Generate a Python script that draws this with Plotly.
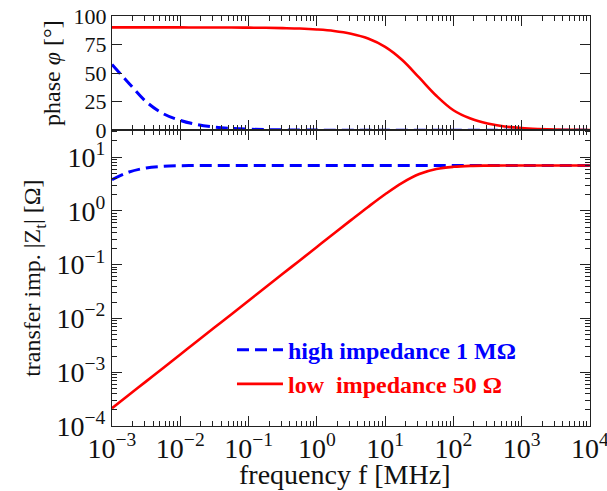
import plotly.graph_objects as go
from plotly.subplots import make_subplots

# frequency samples [MHz], quarter-decade steps
freq_mhz = [1e-3, 1.778e-3, 3.162e-3, 5.623e-3,
            1e-2, 1.778e-2, 3.162e-2, 5.623e-2,
            1e-1, 0.1778, 0.3162, 0.5623,
            1.0, 1.778, 3.162, 5.623,
            10.0, 17.78, 31.62, 56.23,
            100.0, 177.8, 316.2, 562.3,
            1000.0, 1778.0, 3162.0, 5623.0,
            10000.0]

# phase [deg]
phase_high = [57.5, 41.0, 25.0, 14.5, 8.6, 4.9, 2.8, 1.6,
              0.9, 0.5, 0.3, 0.16, 0.09, 0.05, 0.03, 0.02,
              0.01, 0.0, 0.0, 0.0, 0.0, 0.0, 0.0, 0.0,
              0.0, 0.0, 0.0, 0.0, 0.0]
phase_low = [90.0, 90.0, 90.0, 90.0, 90.0, 89.95, 89.9, 89.9,
             89.8, 89.7, 89.4, 89.0, 88.2, 86.9, 84.5, 80.3,
             73.0, 61.5, 46.0, 30.2, 17.5, 10.2, 5.9, 3.3,
             1.9, 1.1, 0.6, 0.35, 0.2]

# transfer impedance |Zt| [Ohm]
zt_high = [3.80, 5.28, 6.29, 6.75, 6.92, 6.97, 6.99, 7.0,
           7.0, 7.0, 7.0, 7.0, 7.0, 7.0, 7.0, 7.0,
           7.0, 7.0, 7.0, 7.0, 7.0, 7.0, 7.0, 7.0,
           7.0, 7.0, 7.0, 7.0, 7.0]
zt_low = [2.14e-4, 3.80e-4, 6.76e-4, 1.20e-3, 2.14e-3, 3.80e-3, 6.76e-3, 1.20e-2,
          2.14e-2, 3.80e-2, 6.76e-2, 0.120, 0.214, 0.380, 0.673, 1.185,
          2.04, 3.33, 4.85, 6.0, 6.6, 6.88, 6.96, 6.99,
          7.0, 7.0, 7.0, 7.0, 7.0]

# axis ticks
freq_ticks = [1e-3, 1e-2, 1e-1, 1e0, 1e1, 1e2, 1e3, 1e4]
freq_ticklabels = ["10<sup>−3</sup>", "10<sup>−2</sup>", "10<sup>−1</sup>", "10<sup>0</sup>",
                   "10<sup>1</sup>", "10<sup>2</sup>", "10<sup>3</sup>", "10<sup>4</sup>"]
zt_ticks = [1e-4, 1e-3, 1e-2, 1e-1, 1e0, 1e1]
zt_ticklabels = ["10<sup>−4</sup>", "10<sup>−3</sup>", "10<sup>−2</sup>",
                 "10<sup>−1</sup>", "10<sup>0</sup>", "10<sup>1</sup>"]
phase_ticks = [0, 25, 50, 75, 100]

label_high = "high impedance 1 MΩ"
label_low = "low\u00a0\u00a0impedance 50 Ω"

BLUE = "#0000ff"
RED = "#ff0000"
SERIF = "Liberation Serif"
INK = "#111"

fig = make_subplots(rows=2, cols=1, shared_xaxes=True, vertical_spacing=0,
                    row_heights=[0.2786, 0.7214])

dash_high = "12px,6px"

fig.add_trace(go.Scatter(x=freq_mhz, y=phase_high, mode="lines", showlegend=False,
                         line=dict(color=BLUE, width=3, dash=dash_high, shape="spline")),
              row=1, col=1)
fig.add_trace(go.Scatter(x=freq_mhz, y=phase_low, mode="lines", showlegend=False,
                         line=dict(color=RED, width=2.6, shape="spline")),
              row=1, col=1)
fig.add_trace(go.Scatter(x=freq_mhz, y=zt_high, mode="lines",
                         name=f'<b><span style="color:{BLUE}">{label_high}</span></b>',
                         line=dict(color=BLUE, width=3, dash=dash_high, shape="spline")),
              row=2, col=1)
fig.add_trace(go.Scatter(x=freq_mhz, y=zt_low, mode="lines",
                         name=f'<b><span style="color:{RED}">{label_low}</span></b>',
                         line=dict(color=RED, width=2.6, shape="spline")),
              row=2, col=1)

axis_common = dict(showline=True, linecolor="#222", linewidth=1.3, mirror="allticks",
                   ticks="inside", ticklen=10, tickwidth=1.1, tickcolor="#222",
                   showgrid=False, zeroline=False, ticklabeloverflow="allow",
                   automargin=False)

log_minor = dict(ticks="inside", ticklen=5, tickwidth=1, tickcolor="#222",
                 showgrid=False, dtick="D1")

fig.update_xaxes(type="log", range=[-3, 4], tickvals=freq_ticks, ticktext=freq_ticklabels,
                 minor=log_minor, **axis_common)
fig.update_xaxes(showticklabels=False, row=1, col=1)
fig.update_xaxes(tickfont=dict(family=SERIF, size=28, color=INK), ticklabelstandoff=-3,
                 row=2, col=1)

fig.update_yaxes(range=[0, 100], tickvals=phase_ticks,
                 tickfont=dict(family=SERIF, size=22, color=INK),
                 title=dict(text="phase <i>φ</i> [°]", standoff=6,
                            font=dict(family=SERIF, size=24, color=INK)),
                 row=1, col=1, **axis_common)
fig.update_yaxes(type="log", range=[-4, 1.5], tickvals=zt_ticks, ticktext=zt_ticklabels,
                 minor=log_minor,
                 tickfont=dict(family=SERIF, size=28, color=INK),
                 title=dict(text="transfer imp. |Z<sub>t</sub>| [Ω]", standoff=8,
                            font=dict(family=SERIF, size=24, color=INK)),
                 row=2, col=1, **axis_common)

# x-axis title, set below the tick labels
fig.add_annotation(text="frequency f [MHz]", xref="paper", yref="paper",
                   x=0.486, y=-0.118, xanchor="center", yanchor="middle",
                   showarrow=False, font=dict(family=SERIF, size=28, color=INK))

fig.update_layout(
    width=607, height=491,
    margin=dict(l=112, r=17, t=16, b=65, autoexpand=False),
    paper_bgcolor="white", plot_bgcolor="white",
    legend=dict(x=0.251, y=0.24, xanchor="left", yanchor="top",
                bgcolor="rgba(0,0,0,0)", itemwidth=46, tracegroupgap=0,
                font=dict(family=SERIF, size=24)),
)

fig.write_html("out.html")
